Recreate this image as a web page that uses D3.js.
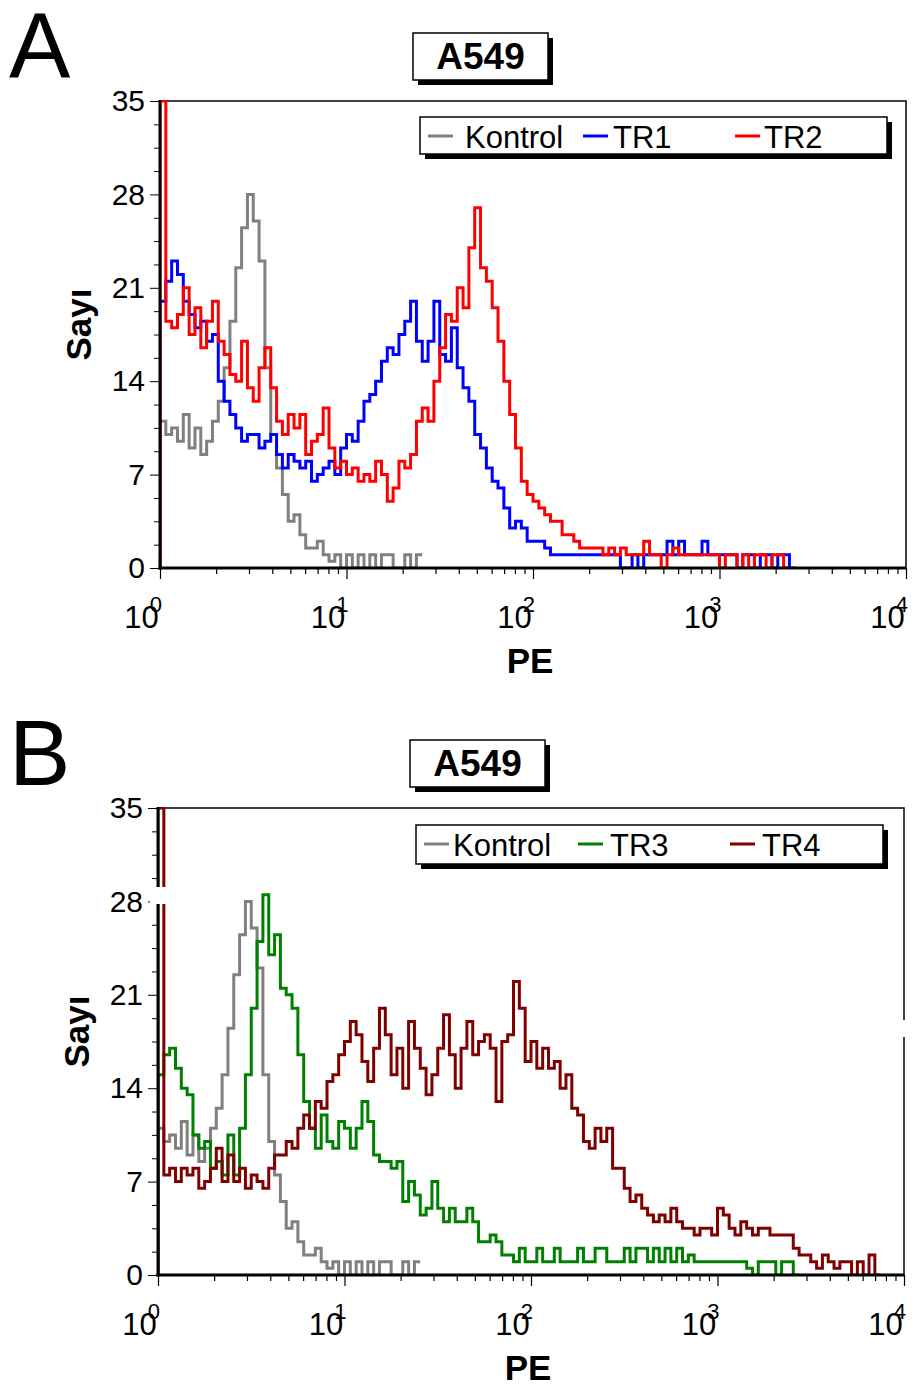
<!DOCTYPE html>
<meta charset="utf-8">
<script src="https://d3js.org/d3.v7.min.js"></script>
<style>
  * { margin: 0; padding: 0; }
  body { background: #fff; }
  svg text { font-family: "Liberation Sans", Arial, sans-serif; fill: #000; }
</style>
<body>
<div id="chart"></div>
<script>

// histogram counts, 32 channels per decade, PE from 10^0 to 10^4
var binsPerDecade = 32;

var kontrol = [11, 10, 10.5, 9.5, 11.5, 9, 10.5, 8.5, 9.5, 11, 12.5, 15, 18.5, 22.5, 25.5, 28,
  26, 23, 15, 10, 7.5, 5.5, 3.5, 4, 2.5, 1.5, 1.5, 2, 1, 0.5, 1, 0, 1, 0, 1, 0, 1, 0, 1, 1,
  0, 0, 1, 0, 1];

var tr1 = [20, 21.5, 23, 22, 20, 19, 18, 18.5, 17, 17.5, 14, 12.5, 11.5, 10.5, 9.5, 10,
  10, 9, 9.5, 10, 8.5, 7.5, 8.5, 8, 7.5, 8, 6.5, 7, 7.5, 8, 7, 9,
  10, 9.5, 11, 12.5, 13, 14, 15.5, 16.5, 16, 17.5, 18.5, 20, 17, 15.5, 17, 20,
  16, 15.5, 18, 15, 13.5, 12.5, 10, 9, 7.5, 6.5, 6, 4.5, 3, 3.5, 3, 2,
  2, 2, 1.5, 1, 1, 1, 1, 1, 1, 1, 1, 1, 1, 1, 1, 0,
  0, 1, 0, 1, 1, 1, 1, 2, 1, 2, 1, 1, 1, 2, 1, 1,
  1, 1, 1, 0, 1, 1, 0, 1, 1, 0, 1, 1, 0];

var tr2 = [35, 18.5, 18, 19, 21, 17.5, 19.5, 16.5, 18.5, 20, 17, 16, 14.5, 14, 17, 13.5,
  12.5, 15, 16.5, 13.5, 11, 10, 11.5, 10.5, 11.5, 8.5, 9.5, 10, 12, 9, 7.5, 8,
  7, 7.5, 6.5, 7, 6.5, 8, 7, 5, 6, 8, 7.5, 8.5, 11, 12, 11, 14,
  16.5, 19, 18.5, 21, 19.5, 24, 27, 22.5, 21.5, 19.5, 17, 14, 11.5, 9, 6.5, 5.5,
  5, 4.5, 4, 3.5, 3.5, 2.5, 2.5, 2, 1.5, 1.5, 1.5, 1.5, 1, 1.5, 1, 1.5,
  1, 1, 1, 2, 1, 1, 0, 1, 1.5, 1, 1, 1, 1, 1, 1, 1,
  0, 1, 1, 0, 1, 0, 1, 1, 0, 1, 1, 0];

var tr3 = [15, 16.5, 17, 15.5, 14, 13.5, 10.5, 9.5, 10, 8, 8.5, 7.5, 10.5, 7.5, 11, 15,
  20, 25, 28.5, 24, 25.5, 21.5, 21, 20, 16.5, 13, 11, 9.5, 12, 10, 9.5, 11.5,
  11, 9.5, 11, 13, 11.5, 9, 8.5, 8.5, 8, 8.5, 5.5, 7, 6, 4.5, 5, 7,
  5, 4, 5, 4, 4, 5, 4, 2.5, 2.5, 3, 2.5, 1.5, 1.5, 1, 2, 1,
  1, 2, 1, 1, 2, 1, 1, 1, 2, 1, 1, 2, 2, 1, 1, 1,
  2, 1, 2, 2, 1, 2, 1, 2, 1, 2, 1, 1.5, 1, 1, 1, 1,
  1, 1, 1, 1, 1, 0.5, 0, 1, 1, 1, 0, 1, 1, 0];

var tr4 = [35, 7.5, 8, 7, 8, 7.5, 8, 6.5, 7, 8, 9.5, 7, 9, 7, 8, 6.5,
  7.5, 7, 6.5, 8, 9, 9, 10, 9.5, 11, 12, 11, 13, 12.5, 14.5, 15, 16.5,
  17.5, 19, 18, 16, 14.5, 17, 20, 18, 15, 17, 14, 19, 17, 15.5, 13.5, 15,
  17, 19.5, 16.5, 14, 17, 19, 16.5, 17.5, 18, 17, 13, 17.5, 18, 22, 20, 16,
  17.5, 15.5, 17, 15.5, 16, 14, 15, 12.5, 12, 10, 9.5, 11, 10, 11, 8, 8,
  6.5, 5.5, 6, 5, 4.5, 4, 4.5, 4, 5, 4, 3.5, 3.5, 3, 3.5, 3.5, 3,
  5, 4.5, 3.5, 3, 4, 3.5, 3, 3.5, 3.5, 3, 3, 3, 3, 2, 1.5, 1.5,
  1, 0.5, 1.5, 1, 0.5, 1, 1, 0, 1, 0, 1.5, 0];

var yTicks = [0, 7, 14, 21, 28, 35];
var decades = [0, 1, 2, 3, 4];
var seriesNames = ["Kontrol", "TR1", "TR2", "TR3", "TR4"];

var panels = [
  { letter: "A", top: 0, x0: 160, x1: 906, y0: 101, y1: 568,
    series: [[kontrol, "#808080"], [tr1, "#0000ff"], [tr2, "#ff0000"]],
    names: [seriesNames[0], seriesNames[1], seriesNames[2]],
    title: { x: 413, y: 33, w: 135, h: 47 },
    legend: { x: 420, y: 117, w: 467, h: 37, lines: [428, 583, 735], texts: [465, 613, 764] },
    gaps: [] },
  { letter: "B", top: 707, x0: 158, x1: 904, y0: 808, y1: 1275,
    series: [[kontrol, "#808080"], [tr3, "#008000"], [tr4, "#800000"]],
    names: [seriesNames[0], seriesNames[3], seriesNames[4]],
    title: { x: 410, y: 740, w: 135, h: 47 },
    legend: { x: 416, y: 825, w: 467, h: 39, lines: [424, 578, 730], texts: [453, 610, 762] },
    gaps: [{ x: 150, y: 887, w: 18, h: 17 }, { x: 899, y: 1020, w: 12, h: 17 }] }
];

var svg = d3.select("#chart").append("svg")
  .attr("width", 917)
  .attr("height", 1392);

panels.forEach(function(p, pi) {

  var x = d3.scaleLog().domain([1, 10000]).range([p.x0, p.x1]);
  var y = d3.scaleLinear().domain([0, 35]).range([p.y1, p.y0]);

  // panel letter
  svg.append("text")
    .attr("x", 9).attr("y", p.top + 78)
    .style("font-size", "92px")
    .text(p.letter);

  // title box with shadow
  var t = p.title;
  svg.append("rect").attr("x", t.x + 5).attr("y", t.y + 5).attr("width", t.w).attr("height", t.h).attr("fill", "#000");
  svg.append("rect").attr("x", t.x).attr("y", t.y).attr("width", t.w).attr("height", t.h)
    .attr("fill", "#fff").attr("stroke", "#000").attr("stroke-width", 1.5);
  svg.append("text")
    .attr("x", t.x + t.w / 2).attr("y", t.y + 36)
    .attr("text-anchor", "middle")
    .style("font-size", "37px").style("font-weight", "bold")
    .text("A549");

  // plot frame (top/right thin)
  svg.append("rect")
    .attr("x", p.x0).attr("y", p.y0)
    .attr("width", p.x1 - p.x0).attr("height", p.y1 - p.y0)
    .attr("fill", "none").attr("stroke", "#000").attr("stroke-width", 1.5);

  // clip
  var clipId = "clip" + pi;
  svg.append("clipPath").attr("id", clipId)
    .append("rect").attr("x", p.x0).attr("y", p.y0 - 1)
    .attr("width", p.x1 - p.x0).attr("height", p.y1 - p.y0 + 2);

  var line = d3.line()
    .x(function(d) { return x(d[0]); })
    .y(function(d) { return y(d[1]); })
    .curve(d3.curveStepAfter);

  p.series.forEach(function(s) {
    var vals = s[0];
    var pts = [[1, 0]];
    vals.forEach(function(v, i) { pts.push([Math.pow(10, i / binsPerDecade), v]); });
    pts.push([Math.pow(10, vals.length / binsPerDecade), vals[vals.length - 1]]);
    svg.append("path")
      .datum(pts)
      .attr("clip-path", "url(#" + clipId + ")")
      .attr("d", line)
      .attr("fill", "none")
      .attr("stroke", s[1])
      .attr("stroke-width", 3)
      .attr("stroke-linejoin", "miter");
  });

  // y axis
  var minorY = d3.range(0, 35.01, 1.75).filter(function(v) { return yTicks.indexOf(v) < 0; });
  var gy = svg.append("g").attr("transform", "translate(" + p.x0 + ",0)");
  gy.append("g").call(d3.axisLeft(y).tickValues(minorY).tickSize(6).tickFormat(""));
  gy.append("g").call(d3.axisLeft(y).tickValues(yTicks).tickSize(10).tickPadding(5))
    .selectAll("text").style("font-size", "30px")
    .style("font-family", "'Liberation Sans', Arial, sans-serif");
  gy.selectAll("path").remove();
  gy.selectAll("line").attr("stroke", "#000").attr("stroke-width", 1);
  svg.append("line").attr("x1", p.x0).attr("x2", p.x0).attr("y1", p.y0 - 1).attr("y2", p.y1 + 1.5)
    .attr("stroke", "#000").attr("stroke-width", 3);

  // x axis
  var minorX = [];
  decades.slice(0, 4).forEach(function(d) {
    for (var m = 2; m < 10; m++) minorX.push(m * Math.pow(10, d));
  });
  var gx = svg.append("g").attr("transform", "translate(0," + p.y1 + ")");
  gx.append("g").call(d3.axisBottom(x).tickValues(minorX).tickSize(6).tickFormat(""));
  gx.append("g").call(d3.axisBottom(x).tickValues(decades.map(function(d) { return Math.pow(10, d); }))
    .tickSize(11).tickFormat(""));
  gx.selectAll("path").remove();
  gx.selectAll("line").attr("stroke", "#000").attr("stroke-width", 1.2);
  svg.append("line").attr("x1", p.x0 - 1.5).attr("x2", p.x1).attr("y1", p.y1).attr("y2", p.y1)
    .attr("stroke", "#000").attr("stroke-width", 3);

  decades.forEach(function(d) {
    var lab = svg.append("text")
      .attr("x", x(Math.pow(10, d)) + 2)
      .attr("y", p.y1 + 60)
      .attr("text-anchor", "end")
      .style("font-size", "31px");
    lab.append("tspan").text("10");
    lab.append("tspan").attr("dx", -9).attr("dy", -16).style("font-size", "22px").text(d);
  });

  // axis titles
  svg.append("text")
    .attr("x", (p.x0 + p.x1) / 2 - 3).attr("y", p.y1 + 105)
    .attr("text-anchor", "middle")
    .style("font-size", "35px").style("font-weight", "bold")
    .text("PE");
  svg.append("text")
    .attr("transform", "translate(" + (p.x0 - 69) + "," + ((p.y0 + p.y1) / 2 - 10) + ") rotate(-90)")
    .attr("text-anchor", "middle")
    .style("font-size", "35px").style("font-weight", "bold")
    .text("Sayı");

  // legend
  var L = p.legend;
  svg.append("rect").attr("x", L.x + 5).attr("y", L.y + 5).attr("width", L.w).attr("height", L.h).attr("fill", "#000");
  svg.append("rect").attr("x", L.x).attr("y", L.y).attr("width", L.w).attr("height", L.h)
    .attr("fill", "#fff").attr("stroke", "#000").attr("stroke-width", 1.5);
  p.series.forEach(function(s, i) {
    svg.append("line")
      .attr("x1", L.lines[i]).attr("x2", L.lines[i] + 25)
      .attr("y1", L.y + 19).attr("y2", L.y + 19)
      .attr("stroke", s[1]).attr("stroke-width", 3);
    svg.append("text")
      .attr("x", L.texts[i]).attr("y", L.y + 31)
      .style("font-size", "31px")
      .text(p.names[i]);
  });

  // scan gaps in the original figure
  p.gaps.forEach(function(g) {
    svg.append("rect").attr("x", g.x).attr("y", g.y).attr("width", g.w).attr("height", g.h).attr("fill", "#fff");
  });
});

</script>
</body>
